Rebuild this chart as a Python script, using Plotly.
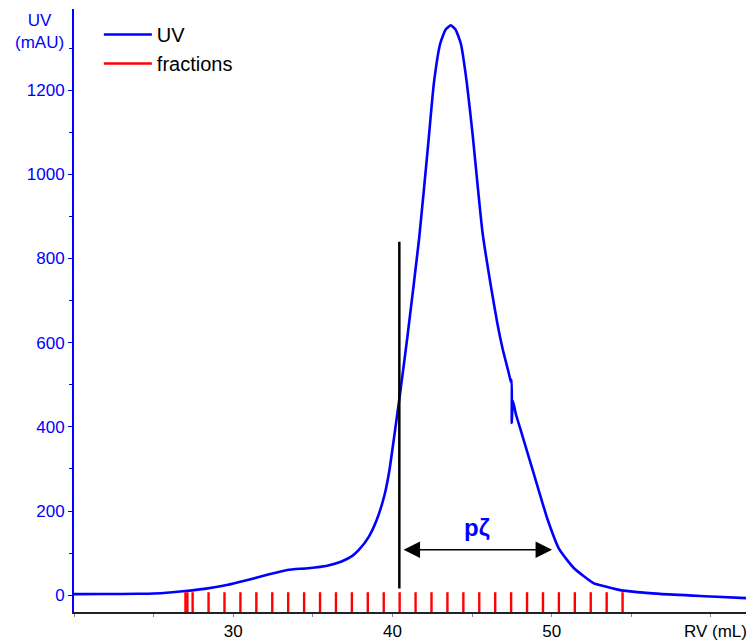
import plotly.graph_objects as go

# UV trace (RV in mL, UV in mAU)
uv_rv = [20.0, 22.0, 24.0, 25.0, 26.0, 27.0, 28.2, 29.6, 30.9, 32.2, 33.4, 34.7,
         35.9, 36.8, 37.5, 37.9, 38.5, 39.0, 39.5, 39.8, 40.1, 40.48, 40.94, 41.68, 42.25,
         42.6, 43.0, 43.35, 43.66, 43.95, 44.29, 44.67, 45.02, 45.65, 46.2, 46.59, 46.92,
         47.22, 47.32, 47.45, 47.49, 47.49, 47.56, 47.75, 48.05, 48.48, 49.1, 49.73, 50.46,
         51.4, 52.65, 53.0, 54.3, 56.8, 60.0, 62.2]
uv_mau = [2.4, 2.6, 3.2, 4.0, 6.5, 10, 15, 24, 36, 49, 60, 64,
          70, 80, 94, 108, 138, 178, 238, 295, 375, 480, 615, 850, 1075,
          1217, 1311, 1345, 1354, 1345, 1311, 1217, 1099, 863, 730, 645, 585,
          540, 525, 505, 512, 409, 462, 430, 393, 338, 260, 181, 110,
          64, 28, 24, 12, 3, -3, -7]

# Fraction marks (RV positions in mL)
fraction_rv = [27.0, 27.12] + [27.45 + k for k in range(28)]
fraction_bottom = -40
fraction_top = 7

# Cut line and pooled range
cut_rv = 40.43
cut_range = [16, 840]
arrow_rv = [40.6, 50.02]
arrow_level = 108
pool_label = "pζ"

x_ticks = [30, 40, 50]
y_ticks = [0, 200, 400, 600, 800, 1000, 1200]

BLUE = "#0000FF"
RED = "#FF0000"
FONT = "Arial, Liberation Sans, sans-serif"

fx, fy = [], []
for r in fraction_rv:
    fx += [r, r, None]
    fy += [fraction_bottom, fraction_top, None]

fig = go.Figure()
fig.add_trace(go.Scatter(x=uv_rv, y=uv_mau, mode="lines", name="UV",
                         line=dict(color=BLUE, width=2.6, shape="spline", smoothing=0.5)))
fig.add_trace(go.Scatter(x=fx, y=fy, mode="lines", name="fractions",
                         line=dict(color=RED, width=2.4)))

fig.add_shape(type="line", x0=cut_rv, x1=cut_rv, y0=cut_range[0], y1=cut_range[1],
              xref="x", yref="y", line=dict(color="black", width=2.5))

fig.add_annotation(x=arrow_rv[1], y=arrow_level, ax=arrow_rv[0], ay=arrow_level,
                   xref="x", yref="y", axref="x", ayref="y", text="",
                   showarrow=True, arrowhead=2, startarrowhead=2, arrowside="end+start",
                   arrowsize=2.2, startarrowsize=2.2, arrowwidth=1.5, arrowcolor="black")
fig.add_annotation(x=45.3, y=160, xref="x", yref="y", text="<b>" + pool_label + "</b>",
                   showarrow=False, font=dict(family=FONT, size=24, color=BLUE))

fig.add_annotation(x=-0.0506, y=0.963, xref="paper", yref="paper", text="UV<br>(mAU)",
                   showarrow=False, align="center", xanchor="center", yanchor="middle",
                   font=dict(family=FONT, size=17, color=BLUE))
fig.add_annotation(x=1, y=0, xref="paper", yref="paper", text="RV (mL)",
                   showarrow=False, xanchor="right", yanchor="middle", xshift=3, yshift=-19,
                   font=dict(family=FONT, size=17, color="black"))

fig.update_layout(
    width=749, height=644,
    margin=dict(l=74, r=3, t=9, b=25),
    plot_bgcolor="white", paper_bgcolor="white",
    font=dict(family=FONT, size=17, color="black"),
    showlegend=True,
    legend=dict(x=0.037, y=0.990, xanchor="left", yanchor="top", itemwidth=48,
                bgcolor="rgba(0,0,0,0)", font=dict(family=FONT, size=20, color="black"),
                tracegroupgap=0),
    xaxis=dict(range=[20.0, 62.2], showgrid=False, zeroline=False, showline=True,
               linecolor="#222222", linewidth=1.5, ticks="outside", ticklen=3,
               tickcolor="#888888", tickvals=x_ticks, ticktext=[str(v) for v in x_ticks],
               minor=dict(dtick=5, tick0=0, ticks="outside", ticklen=3, tickcolor="#888888"),
               tickfont=dict(family=FONT, size=17, color="black")),
    yaxis=dict(range=[-40, 1393], showgrid=False, zeroline=False, showline=True,
               linecolor=BLUE, linewidth=2, ticks="outside", ticklen=4, tickcolor=BLUE,
               tickvals=y_ticks, ticktext=[str(v) for v in y_ticks],
               minor=dict(dtick=100, tick0=0, ticks="outside", ticklen=3, tickcolor=BLUE),
               tickfont=dict(family=FONT, size=17, color=BLUE)),
)

page_css = ("var s=document.createElement('style');"
            "s.textContent='html,body{margin:0;padding:0;overflow:hidden;}';"
            "document.head.appendChild(s);")

fig.write_html("out.html", config={"displayModeBar": False}, post_script=page_css)
